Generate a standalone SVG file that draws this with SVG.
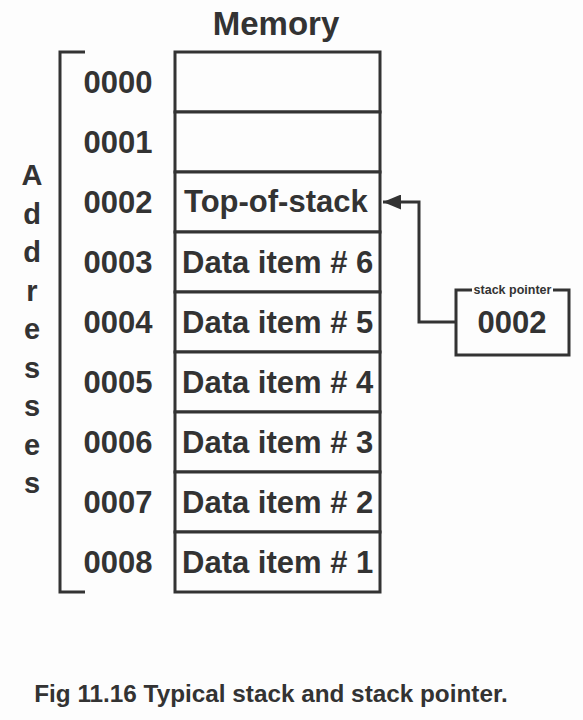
<svg xmlns="http://www.w3.org/2000/svg" width="583" height="720" viewBox="0 0 583 720">
<defs>
<style>
.t{font-family:"Liberation Sans",Arial,sans-serif;font-weight:bold;fill:#333}
.big{font-size:31px}
.addr{font-size:31px;text-anchor:middle}
.cell{fill:#fdfdfd;stroke:#333;stroke-width:3}
.ln{fill:none;stroke:#333;stroke-width:3}
</style>
<marker id="ah" markerWidth="6" markerHeight="5" refX="6" refY="2.5" orient="auto" markerUnits="strokeWidth">
<path d="M0,0 L6,2.5 L0,5 Z" fill="#333"/>
</marker>
</defs>
<rect width="583" height="720" fill="#fdfdfd"/>
<text class="t" x="276" y="35" font-size="33" text-anchor="middle">Memory</text>
<g id="addresses-label">
<text class="t" font-size="29" text-anchor="middle" x="32">
<tspan x="32" y="185">A</tspan><tspan x="32" y="223.5">d</tspan><tspan x="32" y="262">d</tspan><tspan x="32" y="300.5">r</tspan><tspan x="32" y="339">e</tspan><tspan x="32" y="377.5">s</tspan><tspan x="32" y="416">s</tspan><tspan x="32" y="454.5">e</tspan><tspan x="32" y="493">s</tspan>
</text>
</g>
<g id="bracket"><path class="ln" d="M85,52 H60 V592 H85"/></g>
<g id="address-numbers">
<text class="t addr" x="118" y="93">0000</text>
<text class="t addr" x="118" y="153">0001</text>
<text class="t addr" x="118" y="213">0002</text>
<text class="t addr" x="118" y="273">0003</text>
<text class="t addr" x="118" y="333">0004</text>
<text class="t addr" x="118" y="393">0005</text>
<text class="t addr" x="118" y="453">0006</text>
<text class="t addr" x="118" y="513">0007</text>
<text class="t addr" x="118" y="573">0008</text>
</g>
<g id="memory">
<g id="cell-0000"><rect class="cell" x="175" y="52" width="205" height="60"/></g>
<g id="cell-0001"><rect class="cell" x="175" y="112" width="205" height="60"/></g>
<g id="cell-0002"><rect class="cell" x="175" y="172" width="205" height="60"/><text class="t big" x="184" y="212">Top-of-stack</text></g>
<g id="cell-0003"><rect class="cell" x="175" y="232" width="205" height="60"/><text class="t big" x="182" y="273">Data item # 6</text></g>
<g id="cell-0004"><rect class="cell" x="175" y="292" width="205" height="60"/><text class="t big" x="182" y="333">Data item # 5</text></g>
<g id="cell-0005"><rect class="cell" x="175" y="352" width="205" height="60"/><text class="t big" x="182" y="393">Data item # 4</text></g>
<g id="cell-0006"><rect class="cell" x="175" y="412" width="205" height="60"/><text class="t big" x="182" y="453">Data item # 3</text></g>
<g id="cell-0007"><rect class="cell" x="175" y="472" width="205" height="60"/><text class="t big" x="182" y="513">Data item # 2</text></g>
<g id="cell-0008"><rect class="cell" x="175" y="532" width="205" height="60"/><text class="t big" x="182" y="573">Data item # 1</text></g>
</g>
<g id="stack-pointer">
<path class="ln" d="M472,290 H456 V355 H569 V290 H553"/>
<text class="t" x="512.5" y="294" font-size="12.5" text-anchor="middle">stack pointer</text>
<text class="t addr" x="512" y="333">0002</text>
</g>
<g id="connectors">
<path class="ln" d="M456,322 H419 V202 H383" marker-end="url(#ah)"/>
</g>
<text class="t" x="271" y="702" font-size="24.3" text-anchor="middle">Fig 11.16 Typical stack and stack pointer.</text>
</svg>
